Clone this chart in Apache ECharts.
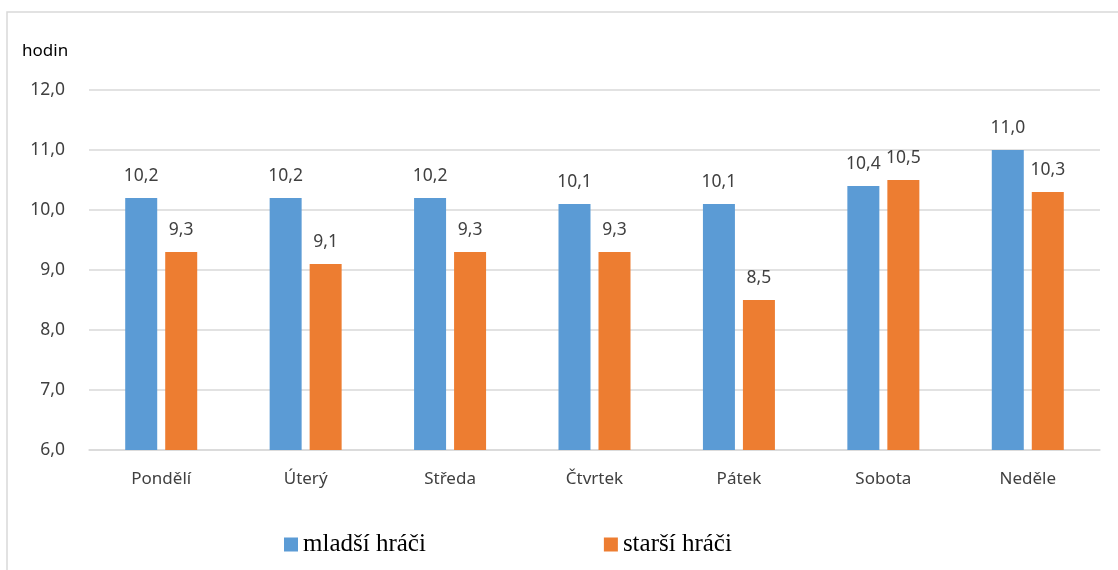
<!DOCTYPE html>
<html>
<head>
<meta charset="utf-8">
<script src="https://cdn.jsdelivr.net/npm/echarts@6/dist/echarts.min.js"></script>
<style>
  html, body { margin: 0; padding: 0; background: #fff; }
  #chart { width: 1118px; height: 570px; }
</style>
</head>
<body>
<div id="chart"></div>
<script>
  const days = ['Pondělí', 'Úterý', 'Středa', 'Čtvrtek', 'Pátek', 'Sobota', 'Neděle']
  const mladsi = [10.2, 10.2, 10.2, 10.1, 10.1, 10.4, 11.0]
  const starsi = [9.3, 9.1, 9.3, 9.3, 8.5, 10.5, 10.3]
  const seriesNames = ['mladší hráči', 'starší hráči']

  const myChart = echarts.init(document.getElementById('chart'))
  const font = 'Noto Sans'
  const textColor = '#404040'
  const fmt = v => v.toFixed(1).replace('.', ',')
  const label = {
    show: true,
    position: 'top',
    distance: 13,
    color: textColor,
    fontFamily: font,
    fontSize: 17.5,
    formatter: p => fmt(p.value)
  }

  const option = {
    animation: false,
    color: ['#5B9BD5', '#ED7D31'],
    graphic: [{
      type: 'rect',
      shape: { x: 7, y: 12, width: 1130, height: 600 },
      style: { fill: 'none', stroke: '#d9d9d9', lineWidth: 1.5 },
      silent: true
    }],
    grid: { left: 89, right: 18, top: 90, bottom: 120 },
    legend: {
      left: 279,
      top: 527,
      itemWidth: 14,
      itemHeight: 14,
      itemGap: 178,
      icon: 'rect',
      textStyle: { fontFamily: 'Liberation Serif', fontSize: 25, color: '#000' },
      data: seriesNames
    },
    xAxis: {
      type: 'category',
      data: days,
      axisLine: { lineStyle: { color: '#d9d9d9', width: 1.5 } },
      axisTick: { show: false },
      axisLabel: { color: textColor, fontFamily: font, fontSize: 17, margin: 21 }
    },
    yAxis: {
      type: 'value',
      min: 6,
      max: 12,
      interval: 1,
      name: 'hodin',
      nameLocation: 'end',
      nameGap: 30,
      nameTextStyle: { color: '#000', fontFamily: font, fontSize: 17, align: 'left', padding: [0, 0, 0, -67] },
      axisLine: { show: false },
      axisTick: { show: false },
      splitLine: { lineStyle: { color: '#d9d9d9', width: 1.5 } },
      axisLabel: { color: textColor, fontFamily: font, fontSize: 17.5, margin: 24, formatter: v => fmt(v) }
    },
    series: [
      { name: seriesNames[0], type: 'bar', data: mladsi, barWidth: 32, barGap: '25%', label },
      { name: seriesNames[1], type: 'bar', data: starsi, barWidth: 32, label }
    ]
  }
  myChart.setOption(option)
</script>
</body>
</html>
